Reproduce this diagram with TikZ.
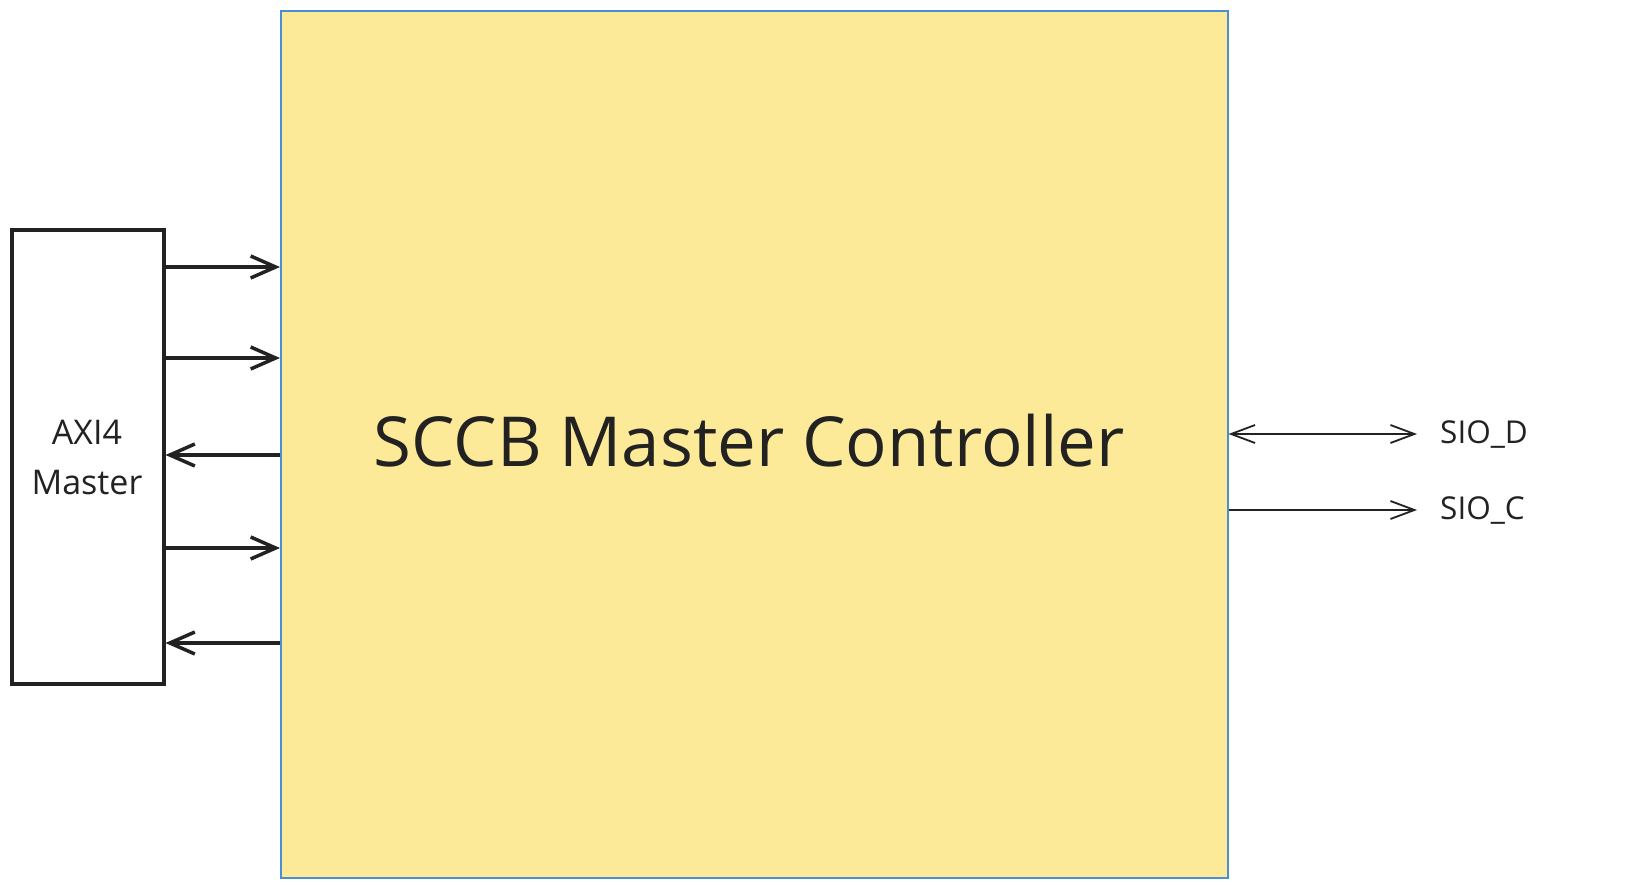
\documentclass[tikz,border=0pt]{standalone}
\usepackage{fontspec}
\setmainfont{Open Sans}
\usetikzlibrary{arrows.meta,positioning}

\definecolor{ctrlfill}{RGB}{253,234,152}
\definecolor{ctrlline}{RGB}{74,143,212}
\definecolor{ink}{RGB}{34,34,34}

\begin{document}
\begin{tikzpicture}[
  x=1pt,y=-1pt,
  block/.style={draw=ctrlline,line width=1.5pt,fill=ctrlfill,inner sep=0pt},
  master/.style={draw=ink,line width=3.5pt,fill=white,inner sep=0pt,align=center,text=ink},
  bus/.style={-{Straight Barb[length=25pt,width=22pt,line width=3.5pt]},draw=ink,line width=3.5pt},
  sig/.style={{Straight Barb[length=24pt,width=18pt,line width=1.8pt]}-{Straight Barb[length=24pt,width=18pt,line width=1.8pt]},draw=ink,line width=1.8pt},
  pin/.style={inner sep=0pt,anchor=west,text=ink,font=\fontsize{31.5}{36}\selectfont}
]
  \useasboundingbox (0,0) rectangle (1626,886);

  \node[block,minimum width=947pt,minimum height=867pt,anchor=north west] (ctrl) at (280,10) {};
  \node[text=ink,font=\fontsize{69}{82}\selectfont] (title) at (749,441) {SCCB Master Controller};

  \node[master,minimum width=152pt,minimum height=454pt,anchor=north west] (axi) at (10,228) {};
  \node[text=ink,align=center,font=\fontsize{34}{50}\selectfont] (axilabel) at (87,457) {AXI4\\Master};

  % AXI4 side: into the controller, then back
  \foreach \y in {267,358,548}
    \draw[bus] (axi.east |- 0,\y) -- (ctrl.west |- 0,\y);
  \foreach \y in {455,643}
    \draw[bus] (ctrl.west |- 0,\y) -- (axi.east |- 0,\y);

  % SCCB pins
  \node[pin] (siod) at (1440,434) {SIO\_D};
  \node[pin] (sioc) at (1440,510) {SIO\_C};
  \draw[sig] (ctrl.east |- siod) -- ([xshift=-23pt]siod.west);
  \draw[sig,-{Straight Barb[length=24pt,width=18pt,line width=1.8pt]}] (ctrl.east |- sioc) -- ([xshift=-23pt]sioc.west);
\end{tikzpicture}
\end{document}
